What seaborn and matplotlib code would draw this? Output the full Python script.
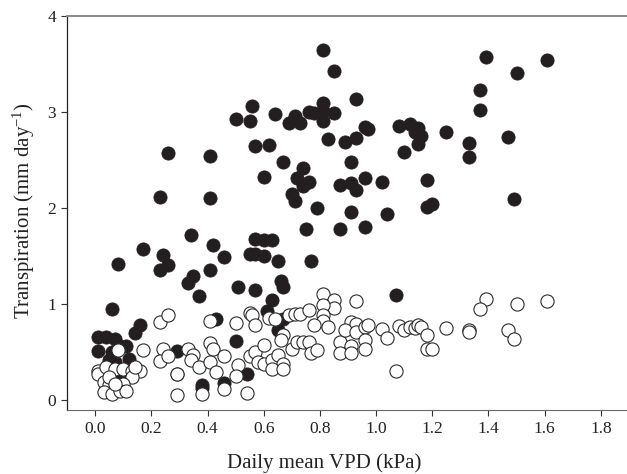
import pandas as pd
import matplotlib
matplotlib.use("Agg")
import matplotlib.pyplot as plt
import seaborn as sns

# filled circles (VPD kPa, transpiration mm/day)
filled_vpd = [0.56, 0.50, 0.55, 0.57, 0.26, 0.41, 0.23, 0.41, 0.34, 0.42,
              0.17, 0.24, 0.46, 0.57, 0.55, 0.57, 0.60, 0.08, 0.26, 0.23,
              0.41, 0.35, 0.33, 0.51, 0.57, 0.37, 0.06, 0.43, 0.16, 0.14,
              0.01, 0.04, 0.07, 0.09, 0.11, 0.01, 0.50, 0.29, 0.12, 0.05,
              0.07, 0.06, 0.04, 0.09, 0.07, 0.06, 0.54, 0.29, 0.38, 0.46,
              0.38, 0.81, 0.85, 0.93, 0.81, 0.81, 0.64, 0.71, 0.69, 0.73,
              0.76, 0.78, 0.81, 0.85, 0.62, 0.83, 0.89, 0.93, 0.96, 0.97,
              1.08, 1.12, 1.15, 1.14, 1.16, 1.15, 1.10, 0.67, 0.74, 0.91,
              0.60, 0.72, 0.76, 0.74, 0.87, 0.91, 0.93, 0.96, 1.02, 1.18,
              0.70, 0.71, 0.79, 0.91, 1.04, 1.18, 1.20, 0.75, 0.87, 0.96,
              0.60, 0.63, 0.65, 0.77, 0.66, 0.67, 0.63, 0.61, 0.67, 0.65,
              1.07, 1.39, 1.61, 1.50, 1.37, 1.37, 1.25, 1.33, 1.33, 1.47,
              1.49]
filled_tr = [3.06, 2.93, 2.91, 2.65, 2.58, 2.54, 2.12, 2.11, 1.72, 1.62,
             1.58, 1.51, 1.49, 1.68, 1.52, 1.52, 1.50, 1.42, 1.41, 1.36,
             1.36, 1.30, 1.22, 1.18, 1.15, 1.09, 0.95, 0.85, 0.79, 0.70,
             0.66, 0.66, 0.64, 0.57, 0.57, 0.51, 0.62, 0.51, 0.43, 0.42,
             0.40, 0.50, 0.31, 0.28, 0.24, 0.19, 0.28, 0.27, 0.16, 0.18,
             0.13, 3.65, 3.43, 3.14, 3.10, 3.01, 2.98, 2.96, 2.89, 2.89,
             3.00, 2.99, 2.91, 2.99, 2.66, 2.72, 2.69, 2.73, 2.85, 2.82,
             2.86, 2.88, 2.84, 2.79, 2.75, 2.67, 2.59, 2.48, 2.42, 2.48,
             2.33, 2.32, 2.27, 2.23, 2.24, 2.26, 2.19, 2.32, 2.27, 2.29,
             2.15, 2.08, 2.00, 1.96, 1.94, 2.01, 2.04, 1.78, 1.78, 1.81,
             1.67, 1.67, 1.45, 1.45, 1.24, 1.18, 1.04, 0.93, 0.85, 0.73,
             1.10, 3.57, 3.54, 3.41, 3.23, 3.02, 2.79, 2.68, 2.53, 2.74,
             2.10]

# open circles
open_vpd = [0.23, 0.26, 0.41, 0.50, 0.55, 0.56, 0.57, 0.17, 0.24, 0.23,
            0.26, 0.33, 0.35, 0.34, 0.37, 0.41, 0.42, 0.41, 0.43, 0.46,
            0.51, 0.50, 0.55, 0.57, 0.58, 0.29, 0.29, 0.38, 0.46, 0.54,
            0.08, 0.01, 0.01, 0.04, 0.07, 0.10, 0.13, 0.16, 0.13, 0.03,
            0.05, 0.10, 0.03, 0.06, 0.09, 0.11, 0.14, 0.05, 0.07,
            0.81, 0.85, 0.85, 0.93, 0.81, 0.81, 0.81, 0.62, 0.64, 0.69,
            0.71, 0.73, 0.76, 0.78, 0.83, 0.67, 0.66, 0.60, 0.60, 0.63,
            0.65, 0.67, 0.63, 0.67, 0.70, 0.72, 0.74, 0.76, 0.77, 0.79,
            0.87, 0.87, 0.91, 0.93, 0.91, 0.91, 0.89, 0.93, 0.96, 0.97,
            0.96, 0.96, 1.02, 1.04, 1.08, 1.10, 1.12, 1.14, 1.15, 1.16,
            1.18, 1.18, 1.20, 1.07, 1.39, 1.37, 1.50, 1.61, 1.25, 1.33,
            1.33, 1.47, 1.49]
open_tr = [0.82, 0.89, 0.83, 0.81, 0.91, 0.89, 0.79, 0.52, 0.53, 0.41,
           0.46, 0.53, 0.47, 0.42, 0.35, 0.60, 0.53, 0.40, 0.30, 0.46,
           0.37, 0.25, 0.46, 0.50, 0.40, 0.28, 0.06, 0.07, 0.12, 0.08,
           0.52, 0.31, 0.28, 0.35, 0.33, 0.33, 0.31, 0.31, 0.24, 0.19,
           0.16, 0.17, 0.09, 0.07, 0.10, 0.10, 0.35, 0.24, 0.17,
           1.11, 1.04, 0.96, 1.03, 0.99, 0.89, 0.83, 0.86, 0.85, 0.89,
           0.90, 0.90, 0.94, 0.78, 0.76, 0.68, 0.63, 0.58, 0.38, 0.42,
           0.47, 0.38, 0.33, 0.33, 0.53, 0.61, 0.61, 0.61, 0.49, 0.52,
           0.61, 0.49, 0.82, 0.80, 0.57, 0.49, 0.73, 0.71, 0.76, 0.78,
           0.63, 0.54, 0.74, 0.65, 0.77, 0.73, 0.76, 0.75, 0.78, 0.76,
           0.68, 0.53, 0.54, 0.31, 1.06, 0.95, 1.00, 1.03, 0.75, 0.73,
           0.71, 0.73, 0.64]

x_ticks = [0.0, 0.2, 0.4, 0.6, 0.8, 1.0, 1.2, 1.4, 1.6, 1.8]
y_ticks = [0, 1, 2, 3, 4]

df_filled = pd.DataFrame({"vpd": filled_vpd, "tr": filled_tr})
df_open = pd.DataFrame({"vpd": open_vpd, "tr": open_tr})

sns.set_style("ticks")
plt.rcParams["font.family"] = ["Liberation Serif", "DejaVu Serif"]
plt.rcParams["mathtext.fontset"] = "custom"
plt.rcParams["mathtext.rm"] = "Liberation Serif"
plt.rcParams["mathtext.it"] = "Liberation Serif:italic"

fig = plt.figure(figsize=(6.27, 4.74), dpi=100)
ax = fig.add_axes([0.107, 0.135, 0.896, 0.831])

sns.scatterplot(data=df_filled, x="vpd", y="tr", ax=ax, s=90,
                color="#231f20", edgecolor="#231f20", linewidth=0.6, zorder=2)
sns.scatterplot(data=df_open, x="vpd", y="tr", ax=ax, s=90,
                color="white", edgecolor="#2b2b2b", linewidth=0.8, zorder=3)

ax.set_xlim(-0.1, 1.9)
ax.set_ylim(-0.1, 4)
ax.set_xticks(x_ticks)
ax.set_xticklabels([f"{v:.1f}" for v in x_ticks])
ax.set_yticks(y_ticks)
ax.set_yticklabels([str(v) for v in y_ticks])
ax.tick_params(direction="out", length=4, width=0.8, colors="#333333",
               labelsize=12.5, labelcolor="#222222", pad=4)

ax.spines["right"].set_visible(False)
ax.spines["top"].set_color("#8a8a8a")
ax.spines["top"].set_linewidth(1.4)
ax.spines["left"].set_color("#222222")
ax.spines["left"].set_linewidth(0.9)
ax.spines["bottom"].set_color("#6a6a6a")
ax.spines["bottom"].set_linewidth(0.8)

ax.set_xlabel("Daily mean VPD (kPa)", fontsize=15, color="#222222")
ax.xaxis.set_label_coords(0.457, -0.11)
ax.set_ylabel(r"Transpiration (mm day$^{-1}$)", fontsize=15, color="#222222")
ax.yaxis.set_label_coords(-0.054, 0.505)

fig.savefig("out.png", dpi=100)
